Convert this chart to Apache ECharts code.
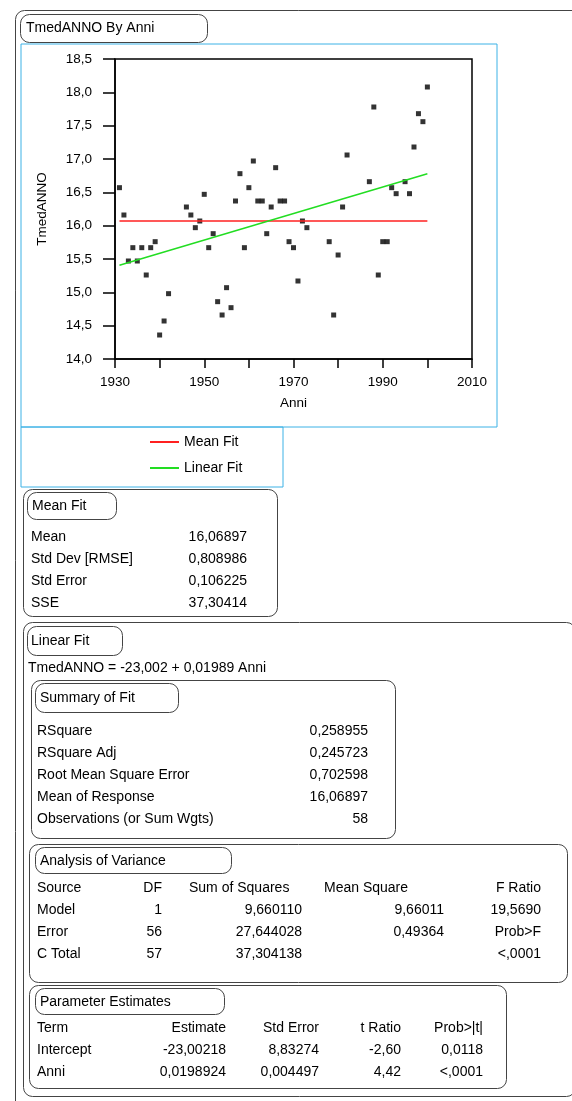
<!DOCTYPE html>
<html lang="en">
<head>
<meta charset="UTF-8">
<style>
html, body { margin: 0; height: 100%; background: #fff; }
#chart { width: 572px; height: 1101px; }
</style>
</head>
<body>
<div id="chart"></div>
<script src="https://cdn.jsdelivr.net/npm/echarts@6/dist/echarts.min.js"></script>
<script>
// observations
var years = [1931, 1932, 1933, 1934, 1935, 1936, 1937, 1938, 1939, 1940, 1941, 1942,
    1946, 1947, 1948, 1949, 1950, 1951, 1952, 1953, 1954, 1955, 1956, 1957, 1958, 1959,
    1960, 1961, 1962, 1963, 1964, 1965, 1966, 1967, 1968, 1969, 1970, 1971, 1972, 1973,
    1978, 1979, 1980, 1981, 1982, 1987, 1988, 1989, 1990, 1991, 1992, 1993,
    1995, 1996, 1997, 1998, 1999, 2000];
var tmed = [16.57, 16.16, 15.47, 15.67, 15.47, 15.67, 15.26, 15.67, 15.76, 14.36, 14.57, 14.98,
    16.28, 16.16, 15.97, 16.07, 16.47, 15.67, 15.88, 14.86, 14.66, 15.07, 14.77, 16.37, 16.78, 15.67,
    16.57, 16.97, 16.37, 16.37, 15.88, 16.28, 16.87, 16.37, 16.37, 15.76, 15.67, 15.17, 16.07, 15.97,
    15.76, 14.66, 15.56, 16.28, 17.06, 16.66, 17.78, 15.26, 15.76, 15.76, 16.57, 16.48,
    16.66, 16.48, 17.18, 17.68, 17.56, 18.08];

// fit lines (end points, from the report coefficients)
var fitYears = [1931, 2000];
var meanFit = [16.06897, 16.06897];
var linearFit = [15.406, 16.778];

var xMin = 1930, xMax = 2010, xStep = 10;
var yMin = 14, yMax = 18.5, yStep = 0.5;

// report tables
var meanFitRows = [['Mean', '16,06897'], ['Std Dev [RMSE]', '0,808986'], ['Std Error', '0,106225'], ['SSE', '37,30414']];
var summaryRows = [['RSquare', '0,258955'], ['RSquare Adj', '0,245723'], ['Root Mean Square Error', '0,702598'],
    ['Mean of Response', '16,06897'], ['Observations (or Sum Wgts)', '58']];
var anovaHead = ['Source', 'DF', 'Sum of Squares', 'Mean Square', 'F Ratio'];
var anovaRows = [['Model', '1', '9,660110', '9,66011', '19,5690'],
    ['Error', '56', '27,644028', '0,49364', 'Prob>F'],
    ['C Total', '57', '37,304138', '', '<,0001']];
var paramHead = ['Term', 'Estimate', 'Std Error', 't Ratio', 'Prob>|t|'];
var paramRows = [['Intercept', '-23,00218', '8,83274', '-2,60', '0,0118'],
    ['Anni', '0,0198924', '0,004497', '4,42', '<,0001']];

var FAMILY = '"Liberation Sans", Arial, sans-serif';
var FONT = '14px ' + FAMILY;
var BLUE = '#3cb2e6';

function box(x, y, w, h, r, color) {
    return {type: 'rect', silent: true, shape: {x: x, y: y, width: w, height: h, r: r},
        style: {fill: 'none', stroke: color || '#444', lineWidth: 1}};
}
function txt(x, y, s, align) {
    return {type: 'text', silent: true, x: x, y: y,
        style: {text: s, font: FONT, fill: '#000', align: align || 'left', verticalAlign: 'middle'}};
}

var g = [];
// outer frame
g.push(box(15.5, 10.5, 620, 1200, 9));
g.push(box(20.5, 14.5, 187, 28, 9));
g.push(txt(26, 28.5, 'TmedANNO By Anni'));
// plot frame + legend frame
g.push(box(21, 44, 476, 383, 0, BLUE));
g.push(box(21, 427, 262, 60, 0, BLUE));

// Mean Fit
g.push(box(23.5, 489.5, 254, 127, 9));
g.push(box(27.5, 492.5, 89, 27, 9));
g.push(txt(32, 506, 'Mean Fit'));
meanFitRows.forEach(function (r, i) {
    g.push(txt(31, 537 + i * 22, r[0]));
    g.push(txt(247, 537 + i * 22, r[1], 'right'));
});

// Linear Fit
g.push(box(23.5, 622.5, 552, 474, 9));
g.push(box(27.5, 626.5, 95, 29, 9));
g.push(txt(31, 641, 'Linear Fit'));
g.push(txt(28, 668, 'TmedANNO = -23,002 + 0,01989 Anni'));

// Summary of Fit
g.push(box(31.5, 680.5, 364, 158, 9));
g.push(box(35.5, 683.5, 143, 29, 9));
g.push(txt(40, 698, 'Summary of Fit'));
summaryRows.forEach(function (r, i) {
    g.push(txt(37, 731 + i * 22, r[0]));
    g.push(txt(368, 731 + i * 22, r[1], 'right'));
});

// Analysis of Variance
g.push(box(29.5, 844.5, 538, 138, 9));
g.push(box(35.5, 847.5, 196, 26, 9));
g.push(txt(40, 861, 'Analysis of Variance'));
var anovaX = [[37, 'left'], [162, 'right'], [189, 'left'], [324, 'left'], [541, 'right']];
anovaHead.forEach(function (s, j) { g.push(txt(anovaX[j][0], 888, s, anovaX[j][1])); });
var anovaValX = [[37, 'left'], [162, 'right'], [302, 'right'], [444, 'right'], [541, 'right']];
anovaRows.forEach(function (r, i) {
    r.forEach(function (s, j) { g.push(txt(anovaValX[j][0], 910 + i * 22, s, anovaValX[j][1])); });
});

// Parameter Estimates
g.push(box(29.5, 985.5, 477, 103, 9));
g.push(box(35.5, 988.5, 189, 26, 9));
g.push(txt(40, 1002, 'Parameter Estimates'));
var paramX = [[37, 'left'], [226, 'right'], [319, 'right'], [401, 'right'], [483, 'right']];
paramHead.forEach(function (s, j) { g.push(txt(paramX[j][0], 1028, s, paramX[j][1])); });
paramRows.forEach(function (r, i) {
    r.forEach(function (s, j) { g.push(txt(paramX[j][0], 1050 + i * 22, s, paramX[j][1])); });
});

var pts = years.map(function (y, i) { return [y, tmed[i]]; });
var axisFont = {fontFamily: FAMILY, fontSize: 13.5, color: '#000'};

var myChart = echarts.init(document.getElementById('chart'), null, {renderer: 'canvas'});
myChart.setOption({
    animation: false,
    grid: {left: 115, top: 59, right: 100, bottom: 742, show: true, borderColor: '#000', borderWidth: 1.5},
    legend: {
        data: ['Mean Fit', 'Linear Fit'],
        orient: 'vertical', left: 150, top: 434, padding: 0,
        icon: 'rect', itemWidth: 29, itemHeight: 2, itemGap: 10,
        textStyle: {fontFamily: FAMILY, fontSize: 14, color: '#000', lineHeight: 16}
    },
    xAxis: {
        type: 'value', min: xMin, max: xMax, interval: xStep,
        name: 'Anni', nameLocation: 'middle', nameGap: 37, nameTextStyle: axisFont,
        axisLine: {lineStyle: {color: '#000', width: 1.5}},
        axisTick: {length: 9, lineStyle: {color: '#000', width: 1.5}},
        axisLabel: Object.assign({margin: 16, formatter: function (v) {
            return (v - xMin) % 20 === 0 ? String(v) : '';
        }}, axisFont),
        splitLine: {show: false}
    },
    yAxis: {
        type: 'value', min: yMin, max: yMax, interval: yStep,
        name: 'TmedANNO', nameLocation: 'middle', nameGap: 66, nameTextStyle: axisFont,
        axisLine: {lineStyle: {color: '#000', width: 1.5}},
        axisTick: {length: 12, lineStyle: {color: '#000', width: 1.5}},
        axisLabel: Object.assign({margin: 23, formatter: function (v) {
            return v.toFixed(1).replace('.', ',');
        }}, axisFont),
        splitLine: {show: false}
    },
    series: [
        {
            name: 'Data', type: 'scatter', data: pts,
            symbol: 'rect', symbolSize: 5, itemStyle: {color: '#000'}
        },
        {
            name: 'Mean Fit', type: 'line', showSymbol: false,
            data: fitYears.map(function (x, i) { return [x, meanFit[i]]; }),
            lineStyle: {color: '#ff2020', width: 1.5}, itemStyle: {color: '#ff2020'}
        },
        {
            name: 'Linear Fit', type: 'line', showSymbol: false,
            data: fitYears.map(function (x, i) { return [x, linearFit[i]]; }),
            lineStyle: {color: '#22dd22', width: 1.5}, itemStyle: {color: '#22dd22'}
        }
    ],
    graphic: g
});
</script>
</body>
</html>
